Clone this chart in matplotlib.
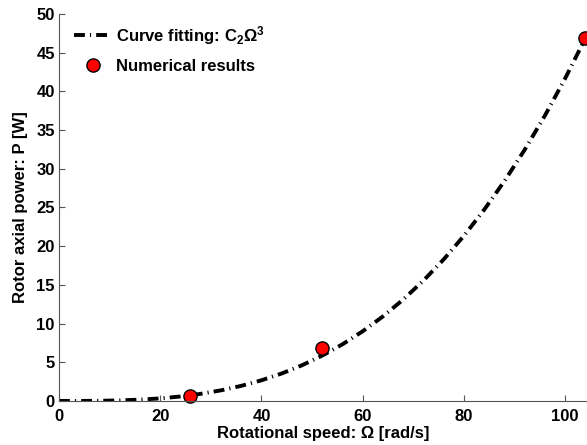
import matplotlib
matplotlib.use('Agg')
import matplotlib.pyplot as plt

plt.rcParams['font.family'] = ['Liberation Sans', 'DejaVu Sans']
plt.rcParams['font.weight'] = 'bold'
plt.rcParams['mathtext.fontset'] = 'custom'
plt.rcParams['mathtext.rm'] = 'Liberation Sans:bold'
plt.rcParams['mathtext.bf'] = 'Liberation Sans:bold'
plt.rcParams['mathtext.it'] = 'Liberation Sans:bold'
plt.rcParams['mathtext.default'] = 'regular'

# fitted curve
omega_fit = [0, 4, 8, 12, 16, 20, 24, 28, 32, 36, 40, 44, 48, 52,
             56, 60, 64, 68, 72, 76, 80, 84, 88, 92, 96, 100, 104]
power_fit = [0.0, 0.0, 0.02, 0.07, 0.17, 0.33, 0.58, 0.92, 1.37, 1.95, 2.67, 3.55, 4.61, 5.86,
             7.32, 9.01, 10.93, 13.11, 15.56, 18.30, 21.35, 24.72, 28.42, 32.47, 36.89, 41.70, 46.90]

# numerical results
omega_num = [25.9, 52.0, 103.9]
power_num = [0.65, 6.8, 46.9]

fig = plt.figure(figsize=(5.87, 4.45), dpi=100)
ax = fig.add_axes([0.1005, 0.099, 0.8995, 0.8695])

ax.plot(omega_fit, power_fit, color='black', lw=2.8,
        linestyle=(0, (2.8, 1.3, 0.3, 1.3)), label='Curve fitting: C$_2$Ω$^3$')
ax.plot(omega_num, power_num, 'o', color='red', mec='black', mew=1.0, ms=9.5,
        linestyle='none', label='Numerical results', clip_on=False)

ax.set_xlim(0, 104.3)
ax.set_ylim(0, 50)
ax.set_xticks([0, 20, 40, 60, 80, 100])
ax.set_yticks(range(0, 51, 5))
ax.tick_params(direction='in', length=4, width=0.8, color='#555555', labelsize=12, pad=3)
ax.tick_params(axis='x', pad=6)
for lab in ax.get_xticklabels() + ax.get_yticklabels():
    lab.set_fontweight('bold')

for s in ['top', 'right']:
    ax.spines[s].set_visible(False)
for s in ['left', 'bottom']:
    ax.spines[s].set_color('#555555')
    ax.spines[s].set_linewidth(0.8)

ax.set_xlabel('Rotational speed: Ω [rad/s]', fontsize=12, fontweight='bold', labelpad=1)
ax.set_ylabel('Rotor axial power: P [W]', fontsize=12, fontweight='bold', labelpad=6)

ax.legend(loc='upper left', frameon=False, fontsize=12, handlelength=2.2,
          handletextpad=0.3, borderaxespad=0.2, labelspacing=0.7,
          bbox_to_anchor=(0.01, 1.0))

fig.savefig('out.png', dpi=100)
